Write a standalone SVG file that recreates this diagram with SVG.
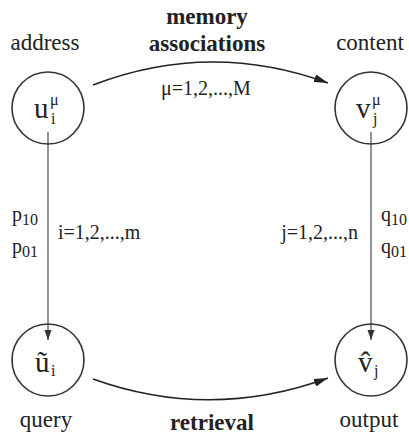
<svg xmlns="http://www.w3.org/2000/svg" width="409" height="436" viewBox="0 0 409 436" font-family="'Liberation Serif', 'DejaVu Serif', serif">
  <style>
    text { font-family: "Liberation Serif", "DejaVu Serif", serif; fill: #222; }
    .lbl { font-size: 23px; }
    .bold { font-size: 23px; font-weight: bold; }
    .idx { font-size: 20px; }
    .var { font-size: 29px; }
    .sup { font-size: 16px; }
    .node circle { fill: none; stroke: #333; stroke-width: 1.6; }
    .arc { fill: none; stroke: #222; stroke-width: 1.6; }
    .vline { fill: none; stroke: #666; stroke-width: 1.4; }
  </style>
  <defs>
    <marker id="arrowBig" markerWidth="14" markerHeight="8" refX="14" refY="4" orient="auto" markerUnits="userSpaceOnUse">
      <path d="M0,0 L14,4 L0,8 Z" fill="#222"/>
    </marker>
    <marker id="arrowSmall" markerWidth="10" markerHeight="8" refX="10" refY="4" orient="auto" markerUnits="userSpaceOnUse">
      <path d="M0,0.5 L10,4 L0,7.5 Z" fill="#333"/>
    </marker>
  </defs>

  <rect width="409" height="436" fill="#fff"/>

  <!-- connectors -->
  <g id="connectors">
    <path class="arc" d="M93,85 Q210,40 328,83" marker-end="url(#arrowBig)"/>
    <path class="arc" d="M93,379 Q210,421 328,378" marker-end="url(#arrowBig)"/>
    <path class="vline" d="M48,132 L48,340" marker-end="url(#arrowSmall)"/>
    <path class="vline" d="M371,132 L371,340" marker-end="url(#arrowSmall)"/>
  </g>

  <!-- edge labels -->
  <g id="edge-labels">
    <text class="bold" x="207" y="24" text-anchor="middle">memory</text>
    <text class="bold" x="207" y="51" text-anchor="middle">associations</text>
    <text class="idx" x="206" y="95" text-anchor="middle">μ=1,2,...,M</text>
    <text class="bold" x="212" y="430" text-anchor="middle">retrieval</text>
    <text class="idx" x="58" y="239">i=1,2,...,m</text>
    <text class="idx" x="358" y="239" text-anchor="end">j=1,2,...,n</text>
    <text class="idx" x="12" y="221">p<tspan class="sup" dy="4">10</tspan></text>
    <text class="idx" x="12" y="253">p<tspan class="sup" dy="4">01</tspan></text>
    <text class="idx" x="381" y="221">q<tspan class="sup" dy="4">10</tspan></text>
    <text class="idx" x="381" y="253">q<tspan class="sup" dy="4">01</tspan></text>
  </g>

  <!-- nodes -->
  <g id="node-address" class="node">
    <circle cx="48" cy="108" r="36"/>
    <text class="lbl" x="45" y="50" text-anchor="middle">address</text>
    <text class="var" x="34" y="118">u</text>
    <text class="sup" x="50" y="105">μ</text>
    <text class="sup" x="51" y="124">i</text>
  </g>

  <g id="node-content" class="node">
    <circle cx="371" cy="108" r="36"/>
    <text class="lbl" x="370" y="50" text-anchor="middle">content</text>
    <text class="var" x="356" y="118">v</text>
    <text class="sup" x="372" y="105">μ</text>
    <text class="sup" x="373" y="124">j</text>
  </g>

  <g id="node-query" class="node">
    <circle cx="48" cy="360" r="36"/>
    <text class="lbl" x="46" y="427" text-anchor="middle">query</text>
    <text class="var" x="35" y="372">ũ</text>
    <text class="sup" x="51" y="376">i</text>
  </g>

  <g id="node-output" class="node">
    <circle cx="371" cy="360" r="36"/>
    <text class="lbl" x="369" y="427" text-anchor="middle">output</text>
    <text class="var" x="358" y="372">v̂</text>
    <text class="sup" x="374" y="376">j</text>
  </g>
</svg>
